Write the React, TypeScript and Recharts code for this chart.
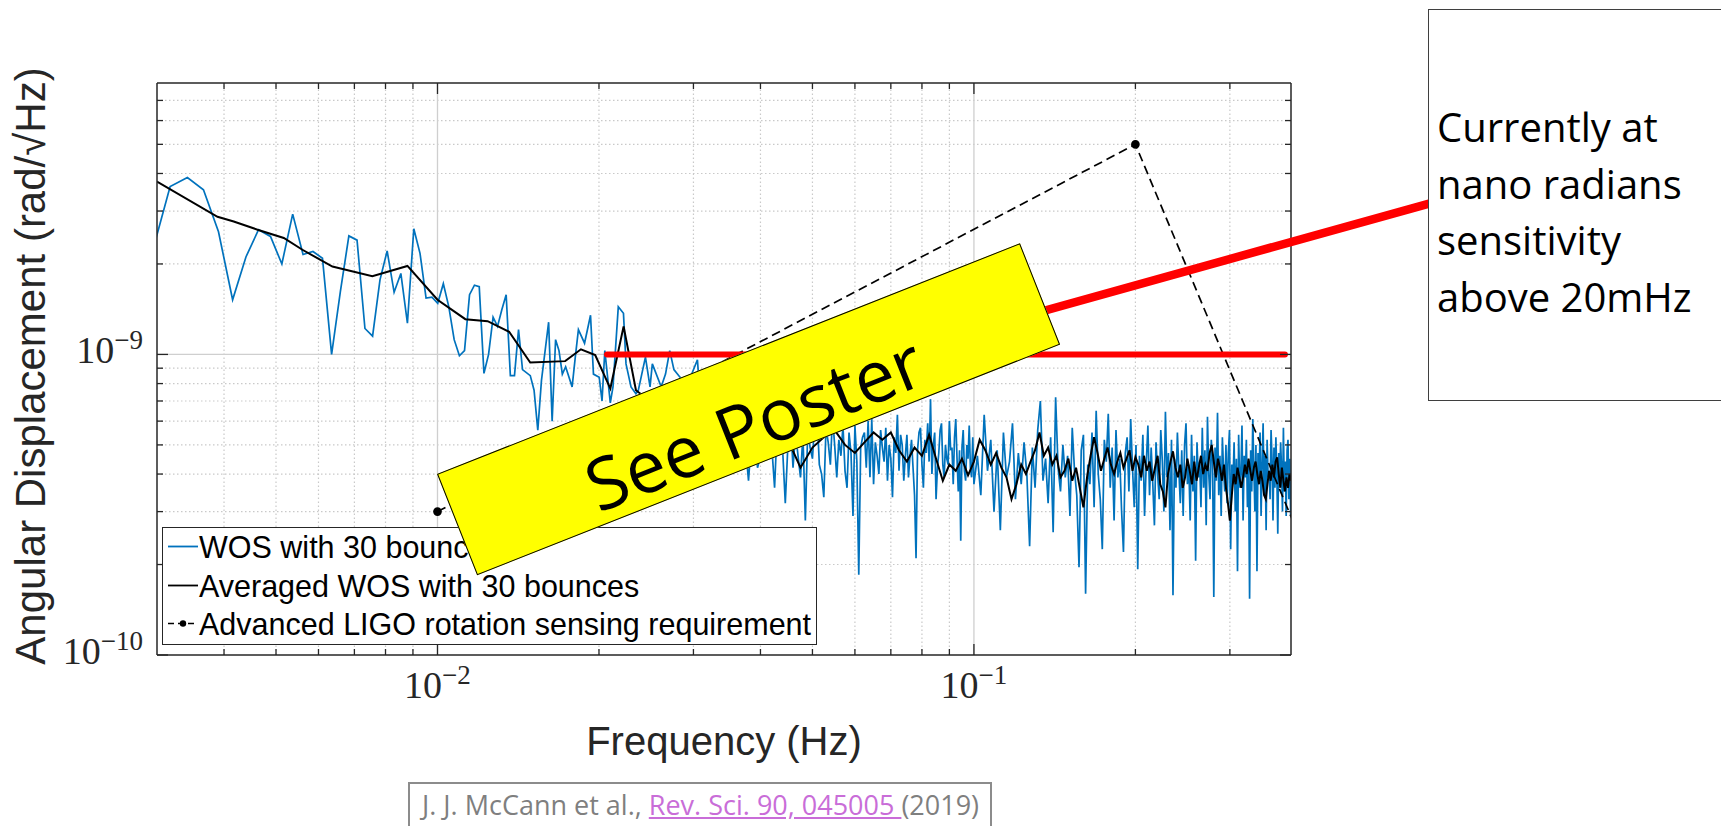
import { LineChart, Line, XAxis, YAxis, ReferenceLine } from 'recharts';

const W = 1721;
const H = 826;
const AXIS = '#262626';
const MATLAB_FONT = "'Liberation Sans', Arial, sans-serif";
const TEX_FONT = "'Liberation Serif', 'Times New Roman', serif";
const SLIDE_FONT = "'Open Sans', 'Noto Sans', sans-serif";

// WOS, low frequencies: FFT bin number (f = k / 4096 Hz) and ASD in 1e-10 rad/√Hz
const wosBins = [
  12, 13, 14, 15, 16, 17, 18, 19, 20, 21, 22, 23, 24, 25, 26, 27, 28, 29, 30, 31,
  32, 33, 34, 35, 36, 37, 38, 39, 40, 41, 42, 43, 44, 45, 46, 47, 48, 49, 50, 51,
  52, 53, 54, 55, 56, 57, 58, 59, 61, 62, 63, 64, 66, 67, 68, 69, 70, 71, 73, 74,
  75, 77, 79, 80, 82, 83, 84, 86, 87, 89, 91, 92, 94, 96, 97, 100, 102, 103, 107, 109,
  111, 113, 116, 120, 125,
];
const wosLowVals = [
  21.4, 36.2, 38.8, 35.3, 25.6, 15.2, 21.1, 26.0, 24.7, 20.0, 29.3, 21.5, 22.0, 20.9, 10.0, 16.2, 24.8, 24.0, 12.2, 11.5,
  17.7, 22.1, 16.1, 18.6, 12.7, 26.2, 21.7, 15.4, 15.5, 14.8, 17.2, 14.4, 11.2, 9.9, 10.3, 15.8, 17.0, 16.8, 8.65, 10.0,
  13.3, 12.4, 14.1, 15.8, 8.5, 8.5, 12.1, 8.9, 8.5, 7.6, 5.6, 8.2, 12.8, 6.0, 11.2, 10.3, 8.6, 9.1, 7.8, 9.8,
  12.1, 10.9, 13.5, 8.6, 8.4, 7.0, 10.3, 6.9, 7.8, 14.4, 13.7, 9.3, 7.8, 7.4, 7.6, 9.8, 7.8, 9.3, 7.8, 8.6,
  10.3, 8.9, 8.4, 8.0, 9.6,
];
// WOS, 0.031 .. 0.100 Hz every 0.5 mHz
const wosMidStart = 0.031;
const wosMidStep = 0.0005;
const wosMidVals = [
  6.5, 5.1, 4.8, 6.0, 6.2, 4.4, 3.9, 5.6, 5.8, 4.7,
  4.4, 6.1, 6.6, 5.0, 3.8, 5.3, 5.5, 4.2, 4.6, 5.9,
  6.3, 4.5, 4.9, 3.6, 5.9, 5.2, 4.8, 3.2, 5.0, 6.1,
  4.2, 5.5, 4.6, 3.9, 5.4, 2.8, 5.6, 4.9, 4.5, 6.0,
  6.4, 4.3, 4.0, 3.35, 5.7, 5.1, 4.3, 6.2, 5.0, 3.9,
  5.2, 4.6, 5.8, 4.1, 3.6, 5.5, 4.7, 2.9, 5.8, 4.4,
  1.85, 4.9, 5.3, 5.5, 4.2, 6.0, 3.9, 6.1, 3.7, 5.1,
  4.6, 4.0, 5.6, 4.9, 4.4, 5.7, 3.8, 5.0, 4.5, 3.35,
  5.3, 4.7, 6.3, 4.1, 5.4, 5.0, 3.8, 4.6, 5.4, 3.9,
  4.6, 5.2, 4.2, 3.4, 2.1, 4.8, 5.5, 5.7, 4.3, 3.6,
  5.2, 4.7, 5.9, 4.4, 7.1, 4.0, 5.0, 5.5, 3.3, 4.2,
  4.7, 5.6, 5.9, 4.3, 3.9, 5.0, 4.5, 4.3, 6.0, 4.8,
  4.9, 3.7, 5.3, 6.1, 4.5, 3.5, 4.8, 2.4, 4.9, 5.6,
  4.1, 3.8, 5.0, 4.5, 5.8, 4.2, 3.9, 5.3, 3.7,
];
// WOS, 0.1015 .. 0.3895 Hz every 1.5 mHz
const wosHighStart = 0.1015;
const wosHighStep = 0.0015;
const wosHighVals = [
  4.6, 3.4, 6.3, 4.1, 5.2, 3.0, 4.8, 2.6, 5.5, 3.9,
  4.4, 5.9, 3.3, 4.7, 3.7, 5.1, 4.0, 2.3, 4.9, 3.6,
  5.6, 7.0, 3.8, 4.5, 3.2, 5.3, 2.56, 7.2, 4.2, 3.5,
  5.0, 3.9, 4.6, 2.9, 5.7, 4.1, 3.4, 1.96, 4.8, 5.4,
  1.6, 4.3, 3.7, 5.5, 3.1, 6.5, 4.0, 3.3, 2.25, 5.2,
  4.4, 6.35, 3.6, 4.9, 2.8, 5.6, 3.9, 4.5, 3.0, 2.2,
  4.7, 5.3, 3.5, 6.1, 4.2, 3.1, 5.0, 1.93, 4.6, 3.8,
  5.4, 2.9, 4.3, 5.8, 3.4, 4.9, 3.7, 2.7, 5.1, 4.0,
  3.3, 5.6, 4.4, 3.0, 6.45, 3.9, 4.7, 2.6, 5.2, 1.58,
  4.5, 3.6, 5.5, 4.1, 3.2, 4.8, 2.9, 5.0, 5.9, 3.7,
  4.3, 2.8, 5.4, 3.5, 4.6, 2.06, 5.1, 3.9, 4.4, 3.1,
  5.7, 3.6, 4.8, 2.7, 6.2, 4.0, 3.3, 5.2, 4.5, 1.56,
  4.9, 3.8, 6.4, 3.4, 4.6, 2.9, 5.3, 4.1, 3.5, 5.0,
  3.2, 4.7, 5.6, 2.25, 4.3, 3.7, 5.1, 3.0, 4.5, 1.9,
  5.4, 3.6, 4.0, 5.8, 2.8, 4.6, 3.9, 5.2, 3.1, 4.4,
  1.54, 4.8, 3.5, 6.1, 4.2, 3.0, 5.0, 1.9, 4.7, 3.8,
  5.5, 2.9, 4.3, 5.9, 3.4, 4.6, 2.6, 5.2, 3.9, 4.1,
  3.3, 5.6, 4.5, 2.8, 4.9, 3.6, 5.3, 4.0, 2.53, 4.7,
  3.7, 5.1, 4.2, 3.0, 5.7, 3.5, 4.4, 2.9, 4.8, 5.2,
  3.3, 4.5, 2.9,
];

// averaged WOS
const avgLowFreq = [
  0.003, 0.00389, 0.00417, 0.00462, 0.00517, 0.0056, 0.00637, 0.00756, 0.00879, 0.01,
  0.01127, 0.0124, 0.0136, 0.01489, 0.0173, 0.01851, 0.01968, 0.021, 0.02223, 0.02344, 0.0239,
];
const avgLowVals = [
  37.6, 28.7, 27.7, 26.0, 24.4, 22.3, 19.6, 18.2, 19.7, 15.2,
  13.1, 12.9, 11.9, 9.4, 9.5, 10.4, 9.95, 7.7, 12.4, 7.6, 7.4,
];
const avgHighStart = 0.025;
const avgHighStep = 0.0025;
const avgHighVals = [
  7.0, 6.4, 6.0, 5.5, 5.8, 5.2, 5.6, 4.9, 5.2, 4.2,
  4.9, 5.3, 5.6, 5.0, 4.7, 5.1, 5.5, 5.2, 5.5, 4.8,
  4.4, 4.9, 4.6, 5.4, 4.5, 3.8, 4.3, 4.1, 4.5, 3.96,
  4.4, 5.2, 4.8, 4.3, 4.7, 4.2, 3.9, 3.3, 3.7, 4.3,
  4.0, 4.4, 4.8, 5.5, 4.6, 4.9, 4.3, 4.6, 3.9, 4.1,
  4.5, 3.8, 4.2, 3.6, 3.1, 3.9, 4.6, 5.3, 4.7, 4.1,
  4.5, 4.9, 4.3, 4.0, 4.4, 4.7, 4.2, 4.5, 4.8, 4.1,
  4.55, 4.3, 3.9, 4.6, 4.1, 4.4, 3.8, 4.2, 4.6, 3.7,
  3.5, 3.1, 4.0, 4.4, 4.76, 4.2, 3.9, 4.3, 3.6, 3.9,
  4.5, 4.1, 3.7, 4.4, 3.8, 4.2, 4.6, 4.0, 4.3, 4.1,
  4.7, 5.0, 4.4, 3.9, 4.5, 4.2, 3.8, 4.3, 3.6, 3.2,
  2.8, 3.4, 4.0, 3.7, 4.2, 3.9, 3.6, 3.9, 4.3, 4.0,
  4.5, 4.1, 3.8, 4.2, 4.4, 4.0, 3.7, 4.1, 3.8, 3.4,
  3.3, 3.7, 4.1, 3.8, 4.3, 3.9, 4.4, 4.55, 4.0, 3.6,
  4.2, 3.8, 3.5, 3.9, 3.6, 4.0, 3.8,
];

// Advanced LIGO requirement and the 1 nrad target
const reqFreq = [0.01, 0.2, 0.5];
const reqVals = [3, 50, 1];
const targetFreq = [0.0207, 0.38];
const targetVals = [10, 10];

// axes
const xDomain = [0.003, 0.39];
const yDomain = [1e-10, 8e-9];
const xMajor = [0.01, 0.1];
const xMinor = [0.004, 0.005, 0.006, 0.007, 0.008, 0.009, 0.02, 0.03, 0.04, 0.05, 0.06, 0.07, 0.08, 0.09, 0.2, 0.3];
const yMajor = [1e-10, 1e-9];
const yMinor = [2e-10, 3e-10, 4e-10, 5e-10, 6e-10, 7e-10, 8e-10, 9e-10, 2e-9, 3e-9, 4e-9, 5e-9, 6e-9, 7e-9];

const E = 1e-10;
const pts = (fs: number[], vs: number[]) => fs.map((f, i) => ({ f, v: vs[i] * E }));
const grid = (start: number, step: number, vs: number[]) => vs.map((v, i) => ({ f: start + i * step, v: v * E }));

const wosData = [
  ...pts(wosBins.map((k) => k / 4096), wosLowVals),
  ...grid(wosMidStart, wosMidStep, wosMidVals),
  ...grid(wosHighStart, wosHighStep, wosHighVals),
];
const avgData = [...pts(avgLowFreq, avgLowVals), ...grid(avgHighStart, avgHighStep, avgHighVals)];
const reqData = pts(reqFreq, reqVals);
const targetData = pts(targetFreq, targetVals);

const xTicks = [...xMinor, ...xMajor].sort((a, b) => a - b);
const yTicks = [...yMajor, ...yMinor].sort((a, b) => a - b);

const Pow = ({ v }: { v: number }) => (
  <>
    10<tspan dy={-14} fontSize={27}>{'\u2212' + Math.abs(Math.round(Math.log10(v)))}</tspan>
  </>
);

function BottomTick({ x, y, payload }: any) {
  const major = xMajor.includes(payload.value);
  return (
    <g>
      <line x1={x} y1={y} x2={x} y2={y - (major ? 11 : 6)} stroke={AXIS} strokeWidth={1.3} />
      {major && (
        <text x={x} y={y + 42.5} textAnchor="middle" fontFamily={TEX_FONT} fontSize={38} fill={AXIS}>
          <Pow v={payload.value} />
        </text>
      )}
    </g>
  );
}

function TopTick({ x, y, payload }: any) {
  const major = xMajor.includes(payload.value);
  return <line x1={x} y1={y} x2={x} y2={y + (major ? 11 : 6)} stroke={AXIS} strokeWidth={1.3} />;
}

function LeftTick({ x, y, payload }: any) {
  const major = yMajor.includes(payload.value);
  return (
    <g>
      <line x1={x} y1={y} x2={x + (major ? 11 : 6)} y2={y} stroke={AXIS} strokeWidth={1.3} />
      {major && (
        <text x={x - 14} y={y + 8.5} textAnchor="end" fontFamily={TEX_FONT} fontSize={38} fill={AXIS}>
          <Pow v={payload.value} />
        </text>
      )}
    </g>
  );
}

function RightTick({ x, y, payload }: any) {
  const major = yMajor.includes(payload.value);
  return <line x1={x} y1={y} x2={x - (major ? 11 : 6)} y2={y} stroke={AXIS} strokeWidth={1.3} />;
}

const legendRows = [
  { label: 'WOS with 30 bounces', color: '#0072BD', dashed: false },
  { label: 'Averaged WOS with 30 bounces', color: '#000000', dashed: false },
  { label: 'Advanced LIGO rotation sensing requirement', color: '#000000', dashed: true },
];

function MatlabLegend() {
  return (
    <div
      style={{
        position: 'absolute', left: 162, top: 527, width: 655, height: 118, boxSizing: 'border-box',
        border: `1.3px solid ${AXIS}`, background: '#fff', fontFamily: MATLAB_FONT, fontSize: 30.5, color: '#000',
      }}
    >
      {legendRows.map((r) => (
        <div key={r.label} style={{ display: 'flex', alignItems: 'center', height: 38.5, lineHeight: '38.5px', whiteSpace: 'nowrap' }}>
          <svg width={36} height={38.5} style={{ flexShrink: 0 }}>
            <line x1={5} x2={35} y1={18.5} y2={18.5} stroke={r.color} strokeWidth={r.dashed ? 1.6 : 1.8}
              strokeDasharray={r.dashed ? '6 4' : undefined} />
            {r.dashed && <circle cx={20} cy={18.5} r={3.2} fill="#000" />}
          </svg>
          <span>{r.label}</span>
        </div>
      ))}
    </div>
  );
}

export default function App() {
  return (
    <div style={{ position: 'absolute', left: 0, top: 0, width: W, height: H, overflow: 'hidden', background: '#fff' }}>
      <LineChart width={W} height={H} margin={{ top: 73, right: 420, bottom: 111, left: 77 }}>
        <XAxis dataKey="f" type="number" scale="log" domain={xDomain} allowDataOverflow ticks={xTicks} interval={0}
          height={60} tickSize={0} tickMargin={0} tickLine={false} tick={<BottomTick />}
          axisLine={{ stroke: AXIS, strokeWidth: 1.5 }} />
        <XAxis xAxisId="top" orientation="top" dataKey="f" type="number" scale="log" domain={xDomain} allowDataOverflow
          ticks={xTicks} interval={0} height={10} tickSize={0} tickMargin={0} tickLine={false} tick={<TopTick />}
          axisLine={{ stroke: AXIS, strokeWidth: 1.5 }} />
        <YAxis type="number" scale="log" domain={yDomain} allowDataOverflow ticks={yTicks} interval={0} width={80}
          tickSize={0} tickMargin={0} tickLine={false} tick={<LeftTick />} axisLine={{ stroke: AXIS, strokeWidth: 1.5 }} />
        <YAxis yAxisId="right" orientation="right" type="number" scale="log" domain={yDomain} allowDataOverflow
          ticks={yTicks} interval={0} width={10} tickSize={0} tickMargin={0} tickLine={false} tick={<RightTick />}
          axisLine={{ stroke: AXIS, strokeWidth: 1.5 }} />

        {xMinor.map((v) => (
          <ReferenceLine key={'xm' + v} x={v} stroke="#c9c9c9" strokeWidth={1.2} strokeDasharray="1.5 2.5" />
        ))}
        {yMinor.map((v) => (
          <ReferenceLine key={'ym' + v} y={v} stroke="#c9c9c9" strokeWidth={1.2} strokeDasharray="1.5 2.5" />
        ))}
        {xMajor.map((v) => (
          <ReferenceLine key={'xM' + v} x={v} stroke="#cfcfcf" strokeWidth={1.3} />
        ))}
        <ReferenceLine y={1e-9} stroke="#cfcfcf" strokeWidth={1.3} />

        <Line data={wosData} dataKey="v" type="linear" stroke="#0072BD" strokeWidth={1.7} dot={false}
          isAnimationActive={false} />
        <Line data={avgData} dataKey="v" type="linear" stroke="#000000" strokeWidth={2} dot={false}
          isAnimationActive={false} />
        <Line data={reqData} dataKey="v" type="linear" stroke="#000000" strokeWidth={1.7} strokeDasharray="9 5"
          dot={{ r: 3.5, fill: '#000', stroke: '#000', strokeDasharray: '' }} isAnimationActive={false} />
        <Line data={targetData} dataKey="v" type="linear" stroke="#ff0000" strokeWidth={6} strokeLinecap="round"
          dot={false} isAnimationActive={false} />
      </LineChart>

      <svg width={W} height={H} style={{ position: 'absolute', left: 0, top: 0, pointerEvents: 'none' }}>
        <text transform="translate(45,366) rotate(-90)" textAnchor="middle" fontFamily={MATLAB_FONT} fontSize={42} fill={AXIS}>
          Angular Displacement (rad/√Hz)
        </text>
        <text x={724} y={755} textAnchor="middle" fontFamily={MATLAB_FONT} fontSize={40} fill={AXIS}>
          Frequency (Hz)
        </text>
        <line x1={995} y1={324.4} x2={1430} y2={203.3} stroke="#ff0000" strokeWidth={8.5} strokeLinecap="round" />
      </svg>

      <MatlabLegend />

      <div
        style={{
          position: 'absolute', left: 436.7, top: 474.3, width: 627, height: 109, boxSizing: 'border-box',
          transform: 'rotate(-21.6deg)', transformOrigin: '0 0', background: '#ffff00', border: '1.5px solid #000',
        }}
      >
        <svg width={627} height={109} style={{ position: 'absolute', left: -1.5, top: -1.5 }}>
          <text x={313.5} y={96} textAnchor="middle" fontFamily={SLIDE_FONT} fontSize={72} fill="#000">
            See Poster
          </text>
        </svg>
      </div>

      <div
        style={{
          position: 'absolute', left: 1428, top: 9, width: 310, height: 392, boxSizing: 'border-box',
          border: '1.5px solid #3f3f3f', background: '#fff',
        }}
      >
        <svg width={300} height={392} style={{ position: 'absolute', left: -1.5, top: -1.5 }}>
          {['Currently at', 'nano radians', 'sensitivity', 'above 20mHz'].map((t, i) => (
            <text key={t} x={9} y={133 + i * 56.7} fontFamily={SLIDE_FONT} fontSize={40} fill="#000">
              {t}
            </text>
          ))}
        </svg>
      </div>

      <div
        style={{
          position: 'absolute', left: 408, top: 782, width: 584, height: 60, boxSizing: 'border-box',
          border: '2px solid #8c8c8c', background: '#fff', fontFamily: SLIDE_FONT, fontSize: 27, color: '#7f7f7f',
          padding: '4px 0 0 12px', whiteSpace: 'nowrap', lineHeight: '34px',
        }}
      >
        J. J. McCann et al.,{' '}
        <span style={{ color: '#c96dd8', textDecoration: 'underline' }}>Rev. Sci. 90, 045005 </span>
        (2019)
      </div>
    </div>
  );
}
